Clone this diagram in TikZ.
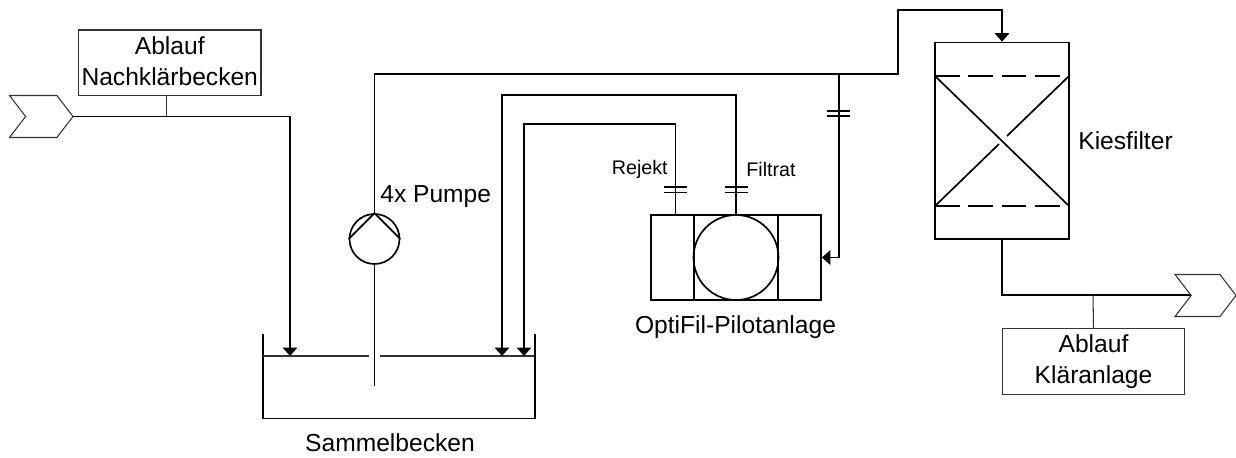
\documentclass[tikz,border=0pt]{standalone}
\usepackage{fontspec}
\setmainfont{Liberation Sans}
\usetikzlibrary{arrows.meta, positioning, calc, shapes.symbols}

\begin{document}
\begin{tikzpicture}[
  pipe/.style={line width=0.95pt},
  feed/.style={pipe, -{Triangle[length=1.7mm, width=2.9mm]}},
  tapline/.style={line width=0.6pt, draw=black!80},
  block/.style={draw=black!80, line width=0.6pt, rectangle, minimum width=3.65cm, minimum height=1.31cm, align=center, inner sep=0pt, font=\fontsize{14}{17.6}\selectfont},
  unit/.style={draw, line width=0.95pt, rectangle, inner sep=0pt},
  stream/.style={draw=black!80, line width=0.6pt, signal, signal to=east, signal from=west, signal pointer angle=105, inner sep=0pt, outer sep=0pt, minimum height=0.84cm},
  biglabel/.style={font=\fontsize{14}{17}\selectfont, inner sep=0pt},
  smalllabel/.style={font=\fontsize{11.2}{13}\selectfont, inner sep=0pt}
]
  \useasboundingbox (0,0) rectangle (24.72,9.14);

  % FEED: Nachklaerbecken into the collecting tank
  \node (stream_in) [stream, minimum width=1.27cm] at (0.825, 6.81) {};
  \node (box_nk) [block] at (3.395, 7.885) {\raisebox{2pt}{Ablauf} \\[-0.2pt] \raisebox{2pt}{Nachklärbecken}};
  \coordinate (tap_nk) at (3.33, 6.81);
  \coordinate (bend_nk) at (5.8, 6.81);
  \coordinate (water_a) at (5.8, 2.02);
  \draw[tapline] (tap_nk |- box_nk.south) -- (tap_nk);
  \draw[feed] (stream_in.east) -- (bend_nk) -- (water_a);

  % TANK
  \coordinate (tank_tl) at (5.26, 2.46);
  \coordinate (tank_bl) at (5.26, 0.77);
  \coordinate (tank_br) at (10.7, 0.77);
  \coordinate (tank_tr) at (10.7, 2.46);
  \draw[pipe] (tank_tl) -- (tank_bl) -- (tank_br) -- (tank_tr);
  \draw[tapline] (5.26, 2.02) -- (7.38, 2.02);
  \draw[tapline] (7.6, 2.02) -- (10.7, 2.02);
  \node (lbl_tank) [biglabel] at (7.8, 0.28) {Sammelbecken};

  % PUMP
  \node (pump) [circle, draw, line width=0.95pt, minimum size=1cm, inner sep=0pt] at (7.49, 4.36) {};
  \coordinate (suction) at (7.49, 1.42);
  \draw[pipe] (suction) -- (pump.south);
  \draw[pipe] (pump.west) -- (pump.north) -- (pump.east);
  \node (lbl_pump) [biglabel, anchor=west] at (7.6, 5.2) {4x Pumpe};

  % KIESFILTER
  \node (kies) [unit, minimum width=2.68cm, minimum height=3.93cm] at (20.04, 6.325) {};
  \coordinate (kies_tl) at (18.7, 7.62);
  \coordinate (kies_tr) at (21.38, 7.62);
  \coordinate (kies_bl) at (18.7, 5.02);
  \coordinate (kies_br) at (21.38, 5.02);
  \draw[pipe, dashed, dash pattern=on 14pt off 5pt] (kies_tl) -- (kies_tr);
  \draw[pipe, dashed, dash pattern=on 14pt off 5pt] (kies_bl) -- (kies_br);
  \draw[pipe] (kies_tl) -- (kies_br);
  \draw[pipe] (kies_bl) -- (19.98, 6.26);
  \draw[pipe] (20.14, 6.42) -- (kies_tr);
  \node (lbl_kies) [biglabel, anchor=west] at (21.56, 6.32) {Kiesfilter};

  % PRESSURE LINE from the pump to the filter
  \coordinate (riser_low) at (17.96, 7.66);
  \coordinate (riser_top) at (17.96, 8.94);
  \coordinate (branch) at (16.78, 7.66);
  \draw[feed] (pump.north) |- (riser_low) -- (riser_top) -| (kies.north);

  % OPTIFIL plant
  \node (opti) [unit, minimum width=3.4cm, minimum height=1.7cm] at (14.72, 3.99) {};
  \node (opti_mid) [unit, minimum width=1.69cm, minimum height=1.7cm] at (14.72, 3.99) {};
  \node (opti_drum) [circle, draw, line width=0.95pt, minimum size=1.7cm, inner sep=0pt] at (14.72, 3.99) {};
  \node (lbl_opti) [biglabel] at (14.71, 2.6) {OptiFil-Pilotanlage};
  \draw[feed] (branch) |- (opti.east);

  % RETURN lines into the tank
  \coordinate (rej_out) at (13.51, 4.84);
  \coordinate (rej_bend) at (13.51, 6.66);
  \coordinate (water_c) at (10.48, 2.02);
  \coordinate (fil_bend) at (14.72, 7.24);
  \coordinate (water_b) at (10.04, 2.02);
  \draw[feed] (rej_out) -- (rej_bend) -| (water_c);
  \draw[feed] (opti_drum.north) -- (fil_bend) -| (water_b);
  \node (lbl_rej) [smalllabel, anchor=east] at (13.36, 5.76) {Rejekt};
  \node (lbl_fil) [smalllabel, anchor=west] at (14.92, 5.76) {Filtrat};

  % FLANGES
  \draw[pipe] (13.28, 5.40) -- (13.74, 5.40);
  \draw[pipe] (13.28, 5.29) -- (13.74, 5.29);
  \draw[pipe] (14.49, 5.40) -- (14.95, 5.40);
  \draw[pipe] (14.49, 5.29) -- (14.95, 5.29);
  \draw[pipe] (16.54, 6.92) -- (17.0, 6.92);
  \draw[pipe] (16.54, 6.82) -- (17.0, 6.82);

  % OUTLET
  \node (stream_out) [stream, minimum width=1.22cm] at (24.11, 3.23) {};
  \node (box_ka) [block] at (21.87, 1.91) {Ablauf \\ Kläranlage};
  \coordinate (notch_out) at (23.82, 3.24);
  \coordinate (tap_ka) at (21.86, 3.24);
  \draw[pipe] (kies.south) |- (notch_out);
  \draw[tapline] (box_ka.north) -- (tap_ka);

\end{tikzpicture}
\end{document}
